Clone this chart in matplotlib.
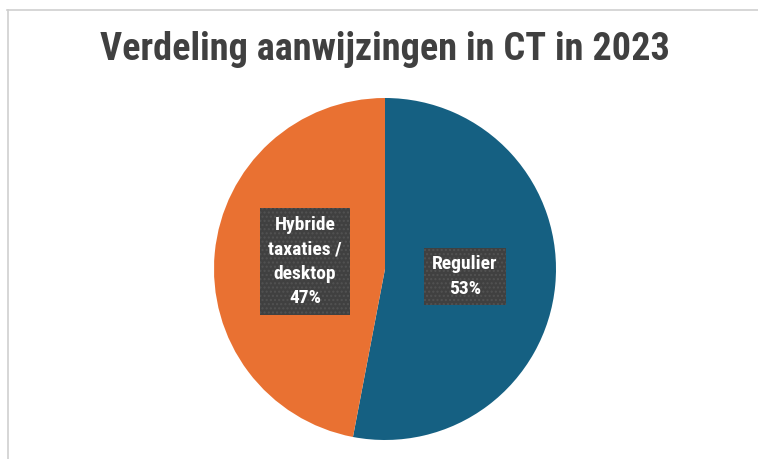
import matplotlib.pyplot as plt
from matplotlib.lines import Line2D

# data
categories = ["Regulier", "Hybride\ntaxaties /\ndesktop"]
shares = [53, 47]
colors = ["#156082", "#E97132"]
title = "Verdeling aanwijzingen in CT in 2023"

plt.rcParams['font.family'] = ['Roboto Condensed', 'Archivo Narrow', 'DejaVu Sans']

W, H = 758, 459
fig = plt.figure(figsize=(W / 100, H / 100), dpi=100)
fig.patch.set_facecolor("white")

# chart frame (only top and left edge visible in the crop)
fig.add_artist(Line2D([7 / W, 1], [1 - 9.5 / H] * 2, color="#cfcfcf", lw=1.2))
fig.add_artist(Line2D([7.5 / W] * 2, [0, 1 - 9.5 / H], color="#cfcfcf", lw=1.2))

# pie: centre (385, 269), radius 171 px
cx, cy, r = 385, 269, 171
ax = fig.add_axes([(cx - r) / W, 1 - (cy + r) / H, 2 * r / W, 2 * r / H])
labels = [f"{c}\n{v}%" for c, v in zip(categories, shares)]
wedges, texts = ax.pie(shares, colors=colors, labels=labels, startangle=90,
                       counterclock=False, labeldistance=0.47,
                       wedgeprops=dict(linewidth=0), radius=1)
for t in texts:
    t.set_ha("center")
    t.set_va("center")
    t.set_color("white")
    t.set_fontsize(14)
    t.set_fontweight("bold")
    t.set_linespacing(1.45)
    t.set_bbox(dict(boxstyle="square,pad=0.4", facecolor="#404040",
                    edgecolor="#525252", hatch="....", linewidth=0))
ax.set_xlim(-1, 1)
ax.set_ylim(-1, 1)
ax.set_aspect("equal")
ax.axis("off")

fig.text(cx / W, 1 - 50 / H, title, ha="center", va="center",
         fontsize=27.5, fontweight="bold", color="#404040")

fig.savefig("out.png", dpi=100, facecolor="white")
